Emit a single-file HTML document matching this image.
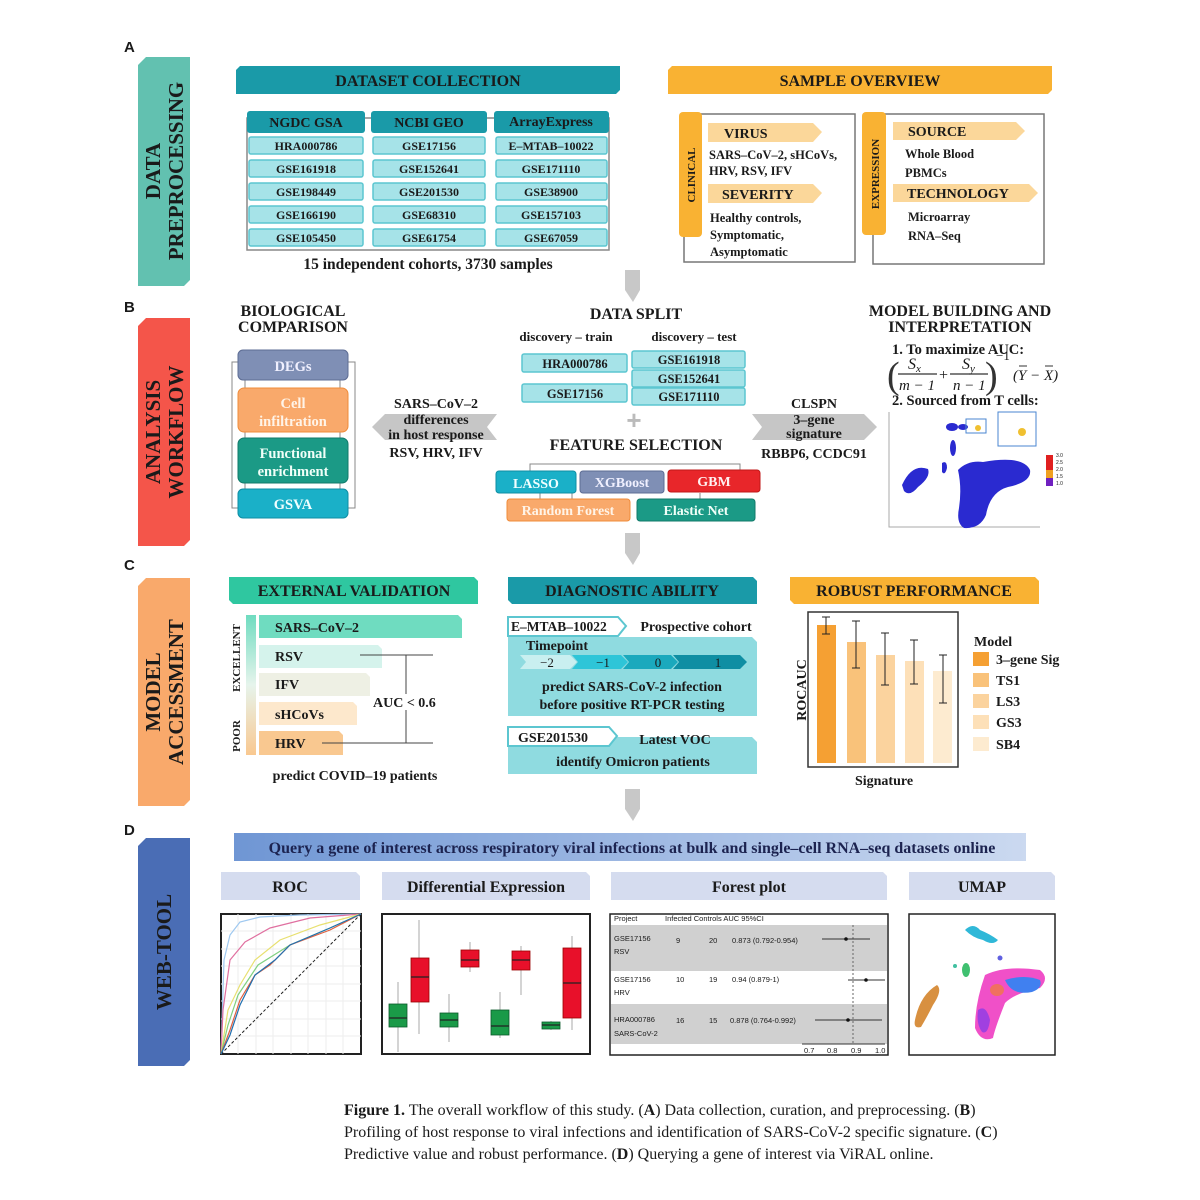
<!DOCTYPE html>
<html><head><meta charset="utf-8"><style>
html,body{margin:0;padding:0;background:#fff}
svg{display:block}
text{font-family:"Liberation Serif",serif;font-weight:bold;fill:#1a1a1a}
.s{font-family:"Liberation Sans",sans-serif;font-weight:normal}
</style></head><body>
<svg width="1200" height="1200" viewBox="0 0 1200 1200" xmlns="http://www.w3.org/2000/svg">
<defs>
<linearGradient id="q" x1="0" x2="1"><stop offset="0" stop-color="#6f96d4"/><stop offset="1" stop-color="#cbd9f0"/></linearGradient>
<linearGradient id="ev" x1="0" y1="0" x2="0" y2="1"><stop offset="0" stop-color="#6fdcc0"/><stop offset="0.5" stop-color="#e6f4ec"/><stop offset="1" stop-color="#f9c890"/></linearGradient>
</defs>
<g font-size="15"><text x="124" y="52" style="font-family:'Liberation Sans',sans-serif">A</text><text x="124" y="312" style="font-family:'Liberation Sans',sans-serif">B</text><text x="124" y="570" style="font-family:'Liberation Sans',sans-serif">C</text><text x="124" y="835" style="font-family:'Liberation Sans',sans-serif">D</text></g>
<polygon points="146,57 190,57 190,280 184,286 138,286 138,65" fill="#62c1b0"/>
<polygon points="146,318 190,318 190,540 184,546 138,546 138,326" fill="#f4554a"/>
<polygon points="146,578 190,578 190,800 184,806 138,806 138,586" fill="#f9a96b"/>
<polygon points="146,838 190,838 190,1060 184,1066 138,1066 138,846" fill="#4a6db5"/>
<g font-size="21" text-anchor="middle">
<text transform="translate(160,171) rotate(-90)">DATA</text>
<text transform="translate(183,171) rotate(-90)">PREPROCESSING</text>
<text transform="translate(160,432) rotate(-90)">ANALYSIS</text>
<text transform="translate(183,432) rotate(-90)">WORKFLOW</text>
<text transform="translate(160,692) rotate(-90)">MODEL</text>
<text transform="translate(183,692) rotate(-90)">ACCESSMENT</text>
<text transform="translate(171,952) rotate(-90)">WEB-TOOL</text>
</g>
<polygon points="240,66 620,66 620,90 616,94 236,94 236,70" fill="#1a9aa8"/>
<text x="428" y="86" font-size="16" text-anchor="middle">DATASET COLLECTION</text>
<rect x="247" y="118" width="362" height="132" fill="none" stroke="#888" stroke-width="1.5"/>
<g fill="#1a9aa8"><rect x="247" y="111" width="118" height="22" rx="3"/><rect x="371" y="111" width="116" height="22" rx="3"/><rect x="494" y="111" width="115" height="22" rx="3"/></g>
<g font-size="14" text-anchor="middle"><text x="306" y="127">NGDC GSA</text><text x="429" y="127">NCBI GEO</text><text x="551" y="126">ArrayExpress</text></g>
<g fill="#a6e3e8" stroke="#5cc6d0" stroke-width="1.5">
<rect x="249" y="137" width="114" height="17" rx="2"/><rect x="373" y="137" width="112" height="17" rx="2"/><rect x="496" y="137" width="111" height="17" rx="2"/>
<rect x="249" y="160" width="114" height="17" rx="2"/><rect x="373" y="160" width="112" height="17" rx="2"/><rect x="496" y="160" width="111" height="17" rx="2"/>
<rect x="249" y="183" width="114" height="17" rx="2"/><rect x="373" y="183" width="112" height="17" rx="2"/><rect x="496" y="183" width="111" height="17" rx="2"/>
<rect x="249" y="206" width="114" height="17" rx="2"/><rect x="373" y="206" width="112" height="17" rx="2"/><rect x="496" y="206" width="111" height="17" rx="2"/>
<rect x="249" y="229" width="114" height="17" rx="2"/><rect x="373" y="229" width="112" height="17" rx="2"/><rect x="496" y="229" width="111" height="17" rx="2"/>
</g>
<g font-size="12" text-anchor="middle">
<text x="306" y="150">HRA000786</text><text x="429" y="150">GSE17156</text><text x="551" y="150">E–MTAB–10022</text>
<text x="306" y="173">GSE161918</text><text x="429" y="173">GSE152641</text><text x="551" y="173">GSE171110</text>
<text x="306" y="196">GSE198449</text><text x="429" y="196">GSE201530</text><text x="551" y="196">GSE38900</text>
<text x="306" y="219">GSE166190</text><text x="429" y="219">GSE68310</text><text x="551" y="219">GSE157103</text>
<text x="306" y="242">GSE105450</text><text x="429" y="242">GSE61754</text><text x="551" y="242">GSE67059</text>
</g>
<text x="428" y="269" font-size="15.5" text-anchor="middle">15 independent cohorts, 3730 samples</text>
<polygon points="672,66 1052,66 1052,90 1048,94 668,94 668,70" fill="#f9b233"/>
<text x="860" y="86" font-size="16" text-anchor="middle">SAMPLE OVERVIEW</text>
<rect x="684" y="114" width="171" height="148" fill="none" stroke="#777" stroke-width="1.5"/>
<rect x="679" y="112" width="23" height="125" rx="4" fill="#f9b233"/>
<text transform="translate(695,175) rotate(-90)" font-size="11" text-anchor="middle">CLINICAL</text>
<polygon points="708,123 813,123 822,132 813,142 708,142" fill="#fbd79a"/>
<text x="724" y="138" font-size="14">VIRUS</text>
<g font-size="12.5"><text x="709" y="159">SARS–CoV–2, sHCoVs,</text><text x="709" y="175">HRV, RSV, IFV</text></g>
<polygon points="708,184 813,184 822,193 813,203 708,203" fill="#fbd79a"/>
<text x="722" y="199" font-size="14">SEVERITY</text>
<g font-size="12.5"><text x="710" y="222">Healthy controls,</text><text x="710" y="239">Symptomatic,</text><text x="710" y="256">Asymptomatic</text></g>
<rect x="873" y="114" width="171" height="150" fill="none" stroke="#777" stroke-width="1.5"/>
<rect x="862" y="112" width="24" height="123" rx="4" fill="#f9b233"/>
<text transform="translate(879,174) rotate(-90)" font-size="11" text-anchor="middle">EXPRESSION</text>
<polygon points="893,122 1016,122 1025,131 1016,140 893,140" fill="#fbd79a"/>
<text x="908" y="136" font-size="14">SOURCE</text>
<g font-size="12.5"><text x="905" y="158">Whole Blood</text><text x="905" y="177">PBMCs</text></g>
<polygon points="893,184 1029,184 1038,193 1029,202 893,202" fill="#fbd79a"/>
<text x="907" y="198" font-size="14">TECHNOLOGY</text>
<g font-size="12.5"><text x="908" y="221">Microarray</text><text x="908" y="240">RNA–Seq</text></g>
<g fill="#c8c8c8"><polygon points="625,270 640,270 640,290 633,302 625,290 625,270"/><polygon points="625,533 640,533 640,553 633,565 625,553"/><polygon points="625,789 640,789 640,809 633,821 625,809"/></g>
<g font-size="16" text-anchor="middle"><text x="293" y="316">BIOLOGICAL</text><text x="293" y="332">COMPARISON</text></g>
<path d="M238,362 H232 V508 H238 M348,362 H355 V508 H348" fill="none" stroke="#888"/>
<g stroke="#888"><line x1="245" y1="380" x2="245" y2="490"/><line x1="340" y1="380" x2="340" y2="490"/></g>
<rect x="238" y="350" width="110" height="30" rx="5" fill="#7f8fb5" stroke="#5d6c94"/>
<rect x="238" y="388" width="110" height="44" rx="6" fill="#f9a96b" stroke="#f08c3a"/>
<rect x="238" y="438" width="110" height="45" rx="6" fill="#1b9a86" stroke="#117a6a"/>
<rect x="238" y="489" width="110" height="29" rx="5" fill="#1ab0c8" stroke="#0f8ea3"/>
<g font-size="14.5" text-anchor="middle"><text x="293" y="371" style="fill:#f0f0ff">DEGs</text><text x="293" y="408" style="fill:#fff4e8">Cell</text><text x="293" y="426" style="fill:#fff4e8">infiltration</text><text x="293" y="458" style="fill:#f0fff8">Functional</text><text x="293" y="476" style="fill:#f0fff8">enrichment</text><text x="293" y="509" style="fill:#f0ffff">GSVA</text></g>
<polygon points="372,427 385,414 497,414 487,427 497,440 385,440" fill="#c6c6c6"/>
<g font-size="14" text-anchor="middle"><text x="436" y="408">SARS–CoV–2</text><text x="436" y="424">differences</text><text x="436" y="439">in host response</text><text x="436" y="457">RSV, HRV, IFV</text></g>
<text x="636" y="319" font-size="16" text-anchor="middle">DATA SPLIT</text>
<g font-size="13" text-anchor="middle"><text x="566" y="341">discovery – train</text><text x="694" y="341">discovery – test</text></g>
<g fill="#a6e3e8" stroke="#5cc6d0" stroke-width="1.5"><rect x="522" y="354" width="105" height="18" rx="2"/><rect x="522" y="384" width="105" height="18" rx="2"/><rect x="632" y="351" width="113" height="17" rx="2"/><rect x="632" y="370" width="113" height="17" rx="2"/><rect x="632" y="388" width="113" height="17" rx="2"/></g>
<g font-size="12.5" text-anchor="middle"><text x="575" y="368">HRA000786</text><text x="575" y="398">GSE17156</text><text x="689" y="364">GSE161918</text><text x="689" y="383">GSE152641</text><text x="689" y="401">GSE171110</text></g>
<text x="634" y="429" font-size="26" text-anchor="middle" style="fill:#bbb;font-family:'Liberation Sans',sans-serif">+</text>
<text x="636" y="450" font-size="16" text-anchor="middle">FEATURE SELECTION</text>
<path d="M530,471 V464 H740 V471 M540,493 V521 M572,493 V499 M700,493 V499" fill="none" stroke="#888"/>
<rect x="496" y="471" width="80" height="22" rx="3" fill="#1ab0c8" stroke="#0f8ea3"/>
<rect x="580" y="471" width="84" height="22" rx="3" fill="#7f8fb5" stroke="#5d6c94"/>
<rect x="668" y="470" width="92" height="22" rx="3" fill="#e8262a" stroke="#c01818"/>
<rect x="507" y="499" width="123" height="22" rx="3" fill="#f9a96b" stroke="#f08c3a"/>
<rect x="637" y="499" width="118" height="22" rx="3" fill="#1b9a86" stroke="#117a6a"/>
<g font-size="14" text-anchor="middle"><text x="536" y="488" style="fill:#f0ffff">LASSO</text><text x="622" y="487" style="fill:#f0f0ff">XGBoost</text><text x="714" y="486" style="fill:#fff0f0">GBM</text><text x="568" y="515" style="fill:#fff4e8">Random Forest</text><text x="696" y="515" style="fill:#f0fff8">Elastic Net</text></g>
<polygon points="752,414 864,414 877,427 864,440 752,440 762,427" fill="#c6c6c6"/>
<g font-size="14" text-anchor="middle"><text x="814" y="408">CLSPN</text><text x="814" y="424">3–gene</text><text x="814" y="438">signature</text><text x="814" y="458">RBBP6, CCDC91</text></g>
<g font-size="16" text-anchor="middle"><text x="960" y="316">MODEL BUILDING AND</text><text x="960" y="332">INTERPRETATION</text></g>
<text x="892" y="354" font-size="14.5">1. To maximize AUC:</text>
<g>
<text x="887" y="388" font-size="38" style="font-weight:normal;fill:#333">(</text>
<text x="985" y="388" font-size="38" style="font-weight:normal;fill:#333">)</text>
<line x1="898" y1="374" x2="937" y2="374" stroke="#333" stroke-width="1.2"/><line x1="950" y1="374" x2="988" y2="374" stroke="#333" stroke-width="1.2"/>
<text x="908" y="369" font-size="16" style="font-weight:normal;font-style:italic">S<tspan font-size="11" dy="3">x</tspan></text>
<text x="962" y="369" font-size="16" style="font-weight:normal;font-style:italic">S<tspan font-size="11" dy="3">y</tspan></text>
<text x="899" y="390" font-size="15" style="font-weight:normal;font-style:italic">m − 1</text>
<text x="953" y="390" font-size="15" style="font-weight:normal;font-style:italic">n − 1</text>
<text x="939" y="380" font-size="16" style="font-weight:normal">+</text>
<text x="996" y="360" font-size="13" style="font-weight:normal">−1</text>
<text x="1013" y="380" font-size="15" style="font-weight:normal;font-style:italic">(Y − X)</text>
<path d="M1019,366 h8 M1045,366 h8" stroke="#333"/>
</g>
<text x="892" y="405" font-size="14.5">2. Sourced from T cells:</text>
<path d="M889,412 V527 H1040" fill="none" stroke="#aaa"/>
<g fill="#2a2ad0">
<path d="M902,485 q10,-22 26,-16 q3,8 -10,18 q-8,10 -14,4z"/>
<path d="M958,470 q10,-10 25,-8 q40,-7 47,8 q2,12 -22,17 q-18,5 -22,28 q-6,14 -22,13 q-8,-5 -5,-20 q3,-20 -1,-38z"/>
<ellipse cx="953" cy="448" rx="3" ry="8"/><ellipse cx="952" cy="427" rx="6" ry="4"/><ellipse cx="963" cy="427" rx="5" ry="3"/>
<path d="M942,463 q5,-3 5,5 q-2,8 -5,4z"/>
</g>
<rect x="966" y="419" width="20" height="14" fill="none" stroke="#4a86d0"/>
<rect x="998" y="412" width="38" height="34" fill="none" stroke="#4a86d0"/>
<circle cx="1022" cy="432" r="4" fill="#f0c030"/><circle cx="978" cy="428" r="3" fill="#f0c030"/>
<rect x="1046" y="455" width="7" height="30" fill="#e02020"/><rect x="1046" y="470" width="7" height="8" fill="#f0a020"/><rect x="1046" y="478" width="7" height="8" fill="#7020c0"/>
<g><text class="s" x="1056" y="457" font-size="5">3.0</text><text class="s" x="1056" y="464" font-size="5">2.5</text><text class="s" x="1056" y="471" font-size="5">2.0</text><text class="s" x="1056" y="478" font-size="5">1.5</text><text class="s" x="1056" y="485" font-size="5">1.0</text></g>
<polygon points="229,577 474,577 478,581 478,604 233,604 229,600" fill="#2fc7a0"/>
<text x="354" y="596" font-size="16" text-anchor="middle">EXTERNAL VALIDATION</text>
<rect x="246" y="615" width="10" height="140" fill="url(#ev)"/>
<text transform="translate(240,658) rotate(-90)" font-size="11" text-anchor="middle">EXCELLENT</text>
<text transform="translate(240,736) rotate(-90)" font-size="11" text-anchor="middle">POOR</text>
<path d="M259,615 H458 L462,619 V638 H259Z" fill="#6fdcc0"/>
<path d="M259,645 H378 L382,649 V668 H259Z" fill="#d5f3ec"/>
<path d="M259,673 H366 L370,677 V696 H259Z" fill="#eef0e4"/>
<path d="M259,702 H353 L357,706 V725 H259Z" fill="#fde8cc"/>
<path d="M259,731 H339 L343,735 V755 H259Z" fill="#f9c890"/>
<g font-size="14"><text x="275" y="632">SARS–CoV–2</text><text x="275" y="661">RSV</text><text x="275" y="689">IFV</text><text x="275" y="719">sHCoVs</text><text x="275" y="748">HRV</text></g>
<path d="M360,655 H433 M406,655 V743 M322,743 H433" stroke="#444" fill="none"/>
<rect x="372" y="694" width="68" height="16" fill="#fff"/>
<text x="373" y="707" font-size="14">AUC &lt; 0.6</text>
<text x="355" y="780" font-size="14" text-anchor="middle">predict COVID–19 patients</text>
<polygon points="508,577 753,577 757,581 757,604 512,604 508,600" fill="#1a9aa8"/>
<text x="632" y="596" font-size="16" text-anchor="middle">DIAGNOSTIC ABILITY</text>
<path d="M508,637 H752 L757,642 V716 H508Z" fill="#8fdbe0"/>
<polygon points="508,617 618,617 626,626 618,636 508,636" fill="#fff" stroke="#5cc6d0" stroke-width="2"/>
<text x="511" y="631" font-size="13.5">E–MTAB–10022</text>
<text x="696" y="631" font-size="14" text-anchor="middle">Prospective cohort</text>
<text x="526" y="650" font-size="14">Timepoint</text>
<polygon points="520,655 570,655 577,662 570,669 520,669 526,662" fill="#c9eff0"/>
<polygon points="572,655 621,655 628,662 621,669 572,669 578,662" fill="#2ec5d8"/>
<polygon points="623,655 671,655 678,662 671,669 623,669 629,662" fill="#1aa9bd"/>
<polygon points="673,655 740,655 747,662 740,669 673,669 679,662" fill="#0f8ea3"/>
<g font-size="13" text-anchor="middle"><text x="547" y="667" style="font-weight:normal">−2</text><text x="603" y="667" style="font-weight:normal">−1</text><text x="658" y="667" style="font-weight:normal">0</text><text x="718" y="667" style="font-weight:normal">1</text></g>
<g font-size="14" text-anchor="middle"><text x="632" y="691">predict SARS-CoV-2 infection</text><text x="632" y="709">before positive RT-PCR testing</text></g>
<path d="M508,737 H752 L757,742 V774 H508Z" fill="#8fdbe0"/>
<polygon points="508,727 609,727 617,736 609,746 508,746" fill="#fff" stroke="#5cc6d0" stroke-width="2"/>
<text x="518" y="742" font-size="14">GSE201530</text>
<text x="675" y="744" font-size="14" text-anchor="middle">Latest VOC</text>
<text x="633" y="766" font-size="14" text-anchor="middle">identify Omicron patients</text>
<polygon points="790,577 1035,577 1039,581 1039,604 794,604 790,600" fill="#f9b233"/>
<text x="914" y="596" font-size="16" text-anchor="middle">ROBUST PERFORMANCE</text>
<rect x="808" y="612" width="150" height="155" fill="none" stroke="#333" stroke-width="1.5"/>
<rect x="817" y="625" width="19" height="138" fill="#f5a033"/>
<rect x="847" y="642" width="19" height="121" fill="#f9c27a"/>
<rect x="876" y="655" width="19" height="108" fill="#fbd39e"/>
<rect x="905" y="661" width="19" height="102" fill="#fde0b8"/>
<rect x="933" y="671" width="19" height="92" fill="#fdebd0"/>
<g stroke="#222" fill="none"><path d="M826,617 V634 M822,617 H830 M822,634 H830"/><path d="M856,621 V668 M852,621 H860 M852,668 H860"/><path d="M885,633 V685 M881,633 H889 M881,685 H889"/><path d="M914,640 V684 M910,640 H918 M910,684 H918"/><path d="M943,655 V703 M939,655 H947 M939,703 H947"/></g>
<text transform="translate(806,690) rotate(-90)" font-size="14" text-anchor="middle">ROCAUC</text>
<text x="884" y="785" font-size="14" text-anchor="middle">Signature</text>
<text x="974" y="646" font-size="14">Model</text>
<rect x="973" y="652" width="16" height="14" fill="#f5a033"/><rect x="973" y="673" width="16" height="14" fill="#f9c27a"/><rect x="973" y="694" width="16" height="14" fill="#fbd39e"/><rect x="973" y="715" width="16" height="14" fill="#fde0b8"/><rect x="973" y="737" width="16" height="14" fill="#fdebd0"/>
<g font-size="14"><text x="996" y="664">3–gene Sig</text><text x="996" y="685">TS1</text><text x="996" y="706">LS3</text><text x="996" y="727">GS3</text><text x="996" y="749">SB4</text></g>
<rect x="234" y="833" width="792" height="28" fill="url(#q)"/>
<text x="632" y="853" font-size="16" text-anchor="middle" style="fill:#1c2350">Query a gene of interest across respiratory viral infections at bulk and single–cell RNA–seq datasets online</text>
<g fill="#d5dcef"><polygon points="221,872 356,872 360,876 360,900 221,900"/><polygon points="382,872 586,872 590,876 590,900 382,900"/><polygon points="611,872 883,872 887,876 887,900 611,900"/><polygon points="909,872 1051,872 1055,876 1055,900 909,900"/></g>
<g font-size="16" text-anchor="middle"><text x="290" y="892">ROC</text><text x="486" y="892">Differential Expression</text><text x="749" y="892">Forest plot</text><text x="982" y="892">UMAP</text></g>
<rect x="221" y="914" width="140" height="140" fill="#fff" stroke="#222" stroke-width="2"/>
<g stroke="#eee"><path d="M238,914 V1054 M256,914 V1054 M273,914 V1054 M291,914 V1054 M308,914 V1054 M326,914 V1054 M343,914 V1054 M221,931 H361 M221,949 H361 M221,966 H361 M221,984 H361 M221,1001 H361 M221,1019 H361 M221,1036 H361"/></g>
<line x1="221" y1="1054" x2="361" y2="914" stroke="#222" stroke-dasharray="3,2"/>
<g fill="none" stroke-width="1.2">
<path d="M221,1054 L224,960 L230,935 L240,922 L260,917 L300,915 L361,914" stroke="#9ec8f0"/>
<path d="M221,1054 L223,1010 L230,960 L245,942 L270,928 L310,918 L361,914" stroke="#e070a0"/>
<path d="M221,1054 L228,1010 L240,985 L255,960 L280,940 L320,925 L361,914" stroke="#e8e070"/>
<path d="M221,1054 L228,1025 L238,995 L258,965 L290,945 L330,928 L361,914" stroke="#80d080"/>
<path d="M221,1054 L230,1030 L240,1000 L255,975 L270,965 L290,945 L330,930 L361,914" stroke="#e06040"/>
<path d="M221,1054 L230,1035 L240,1005 L255,975 L275,960 L290,945 L330,928 L361,914" stroke="#2070b0"/>
</g>
<rect x="382" y="914" width="208" height="140" fill="#fff" stroke="#222" stroke-width="2"/>
<g stroke="#aaa"><path d="M398,982 V1052 M419,920 V1034 M449,994 V1042 M470,942 V972 M500,992 V1038 M521,946 V995 M551,1021 V1030 M572,936 V1030"/></g>
<g stroke="#0a5a2a" stroke-width="0.8"><rect x="389" y="1004" width="18" height="23" fill="#1a9a48"/><rect x="440" y="1013" width="18" height="14" fill="#1a9a48"/><rect x="491" y="1010" width="18" height="25" fill="#1a9a48"/><rect x="542" y="1022" width="18" height="7" fill="#1a9a48"/></g>
<g stroke="#900" stroke-width="0.8"><rect x="411" y="958" width="18" height="44" fill="#e8102a"/><rect x="461" y="950" width="18" height="17" fill="#e8102a"/><rect x="512" y="951" width="18" height="19" fill="#e8102a"/><rect x="563" y="948" width="18" height="70" fill="#e8102a"/></g>
<g stroke="#222" stroke-width="1.3"><path d="M389,1018 H407 M440,1020 H458 M491,1026 H509 M542,1025 H560 M411,977 H429 M461,960 H479 M512,960 H530 M563,983 H581"/></g>
<rect x="610" y="914" width="278" height="141" fill="#fff" stroke="#222" stroke-width="1.5"/>
<rect x="611" y="925" width="276" height="46" fill="#d0d0d0"/>
<rect x="611" y="1004" width="276" height="40" fill="#d0d0d0"/>
<g style="fill:#333">
<text class="s" x="614" y="921" font-size="7.5">Project</text><text class="s" x="665" y="921" font-size="7.5">Infected Controls  AUC      95%CI</text>
<text class="s" x="614" y="941" font-size="7.5">GSE17156</text><text class="s" x="614" y="954" font-size="7.5">RSV</text><text class="s" x="676" y="943" font-size="7.5">9</text><text class="s" x="709" y="943" font-size="7.5">20</text><text class="s" x="732" y="943" font-size="7.5">0.873  (0.792-0.954)</text>
<text class="s" x="614" y="982" font-size="7.5">GSE17156</text><text class="s" x="614" y="995" font-size="7.5">HRV</text><text class="s" x="676" y="982" font-size="7.5">10</text><text class="s" x="709" y="982" font-size="7.5">19</text><text class="s" x="732" y="982" font-size="7.5">0.94   (0.879-1)</text>
<text class="s" x="614" y="1022" font-size="7.5">HRA000786</text><text class="s" x="614" y="1036" font-size="7.5">SARS-CoV-2</text><text class="s" x="676" y="1023" font-size="7.5">16</text><text class="s" x="709" y="1023" font-size="7.5">15</text><text class="s" x="730" y="1023" font-size="7.5">0.878  (0.764-0.992)</text>
<text class="s" x="804" y="1053" font-size="7.5">0.7</text><text class="s" x="827" y="1053" font-size="7.5">0.8</text><text class="s" x="851" y="1053" font-size="7.5">0.9</text><text class="s" x="875" y="1053" font-size="7.5">1.0</text>
</g>
<line x1="853" y1="925" x2="853" y2="1044" stroke="#666" stroke-dasharray="2,2"/>
<g stroke="#333"><path d="M822,939 H870 M848,980 H885 M815,1020 H882 M802,1044 H885"/></g>
<g fill="#111"><circle cx="846" cy="939" r="1.8"/><circle cx="866" cy="980" r="1.8"/><circle cx="848" cy="1020" r="1.8"/></g>
<rect x="909" y="914" width="146" height="141" fill="#fff" stroke="#222" stroke-width="1.5"/>
<g>
<path d="M965,930 q8,-8 15,0 q10,4 18,10 q-5,6 -15,0 q-10,-2 -18,-10z" fill="#30b8d8"/>
<ellipse cx="966" cy="970" rx="4" ry="7" fill="#40c070"/>
<path d="M915,1020 q5,-25 22,-35 q6,5 -4,20 q-6,12 -12,22 q-8,2 -6,-7z" fill="#d89040"/>
<path d="M985,975 q20,-10 55,-5 q10,8 0,18 q-25,5 -35,15 q-10,25 -12,35 q-12,5 -18,-10 q0,-25 10,-53z" fill="#f050c8"/>
<path d="M1005,980 q20,-6 35,0 q3,8 -8,12 q-20,4 -27,-12z" fill="#4080f0"/>
<path d="M978,1010 q8,-6 12,10 q-2,15 -8,12 q-6,-8 -4,-22z" fill="#a040e0"/>
<ellipse cx="997" cy="990" rx="7" ry="6" fill="#f07060"/>
<circle cx="1000" cy="958" r="2.5" fill="#6060e0"/><circle cx="955" cy="966" r="2" fill="#40c0a0"/>
</g>
<g font-size="16">
<text x="344" y="1115" style="font-weight:normal"><tspan style="font-weight:bold">Figure 1.</tspan> The overall workflow of this study. (<tspan style="font-weight:bold">A</tspan>) Data collection, curation, and preprocessing. (<tspan style="font-weight:bold">B</tspan>)</text>
<text x="344" y="1137" style="font-weight:normal">Profiling of host response to viral infections and identification of SARS-CoV-2 specific signature. (<tspan style="font-weight:bold">C</tspan>)</text>
<text x="344" y="1159" style="font-weight:normal">Predictive value and robust performance. (<tspan style="font-weight:bold">D</tspan>) Querying a gene of interest via ViRAL online.</text>
</g>
</svg>
</body></html>
